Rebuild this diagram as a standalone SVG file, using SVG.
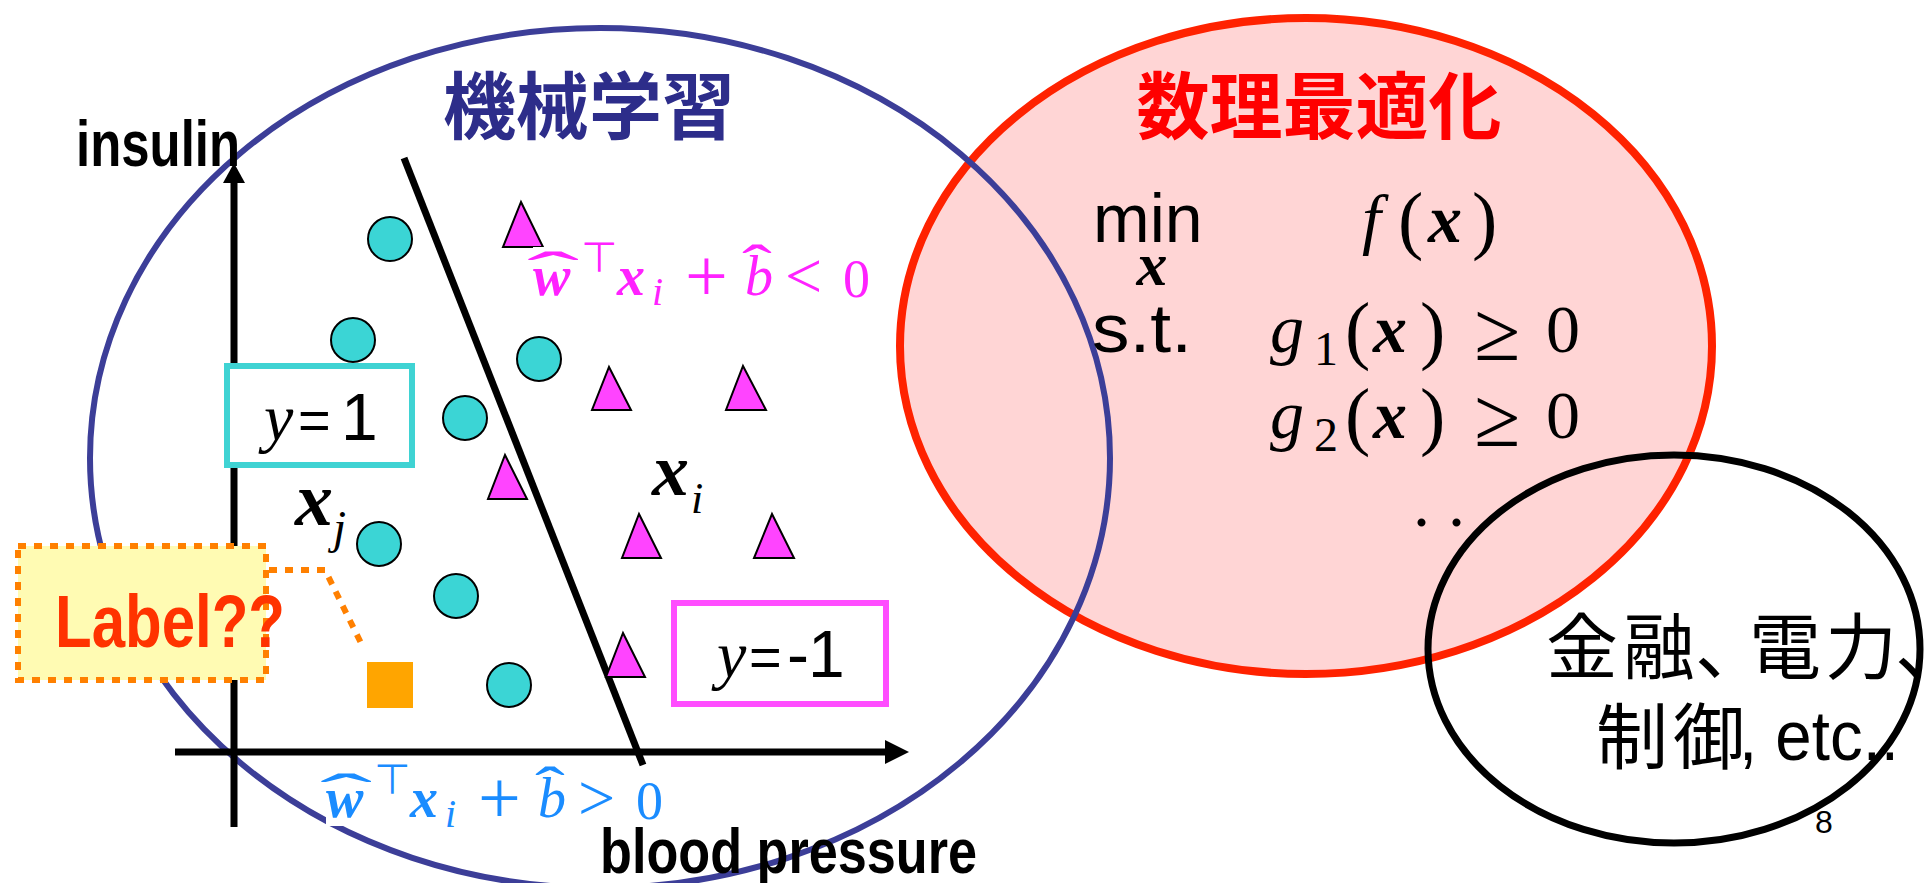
<svg xmlns="http://www.w3.org/2000/svg" width="1924" height="883" viewBox="0 0 1924 883">
<defs>
<style>
.sans{font-family:"Liberation Sans","Noto Sans CJK JP",sans-serif}
.cjk{font-family:"Noto Sans CJK JP","Noto Sans CJK SC",sans-serif}
.serif{font-family:"Liberation Serif",serif}
.it{font-family:"Liberation Serif",serif;font-style:italic}
.bi{font-family:"Liberation Serif",serif;font-style:italic;font-weight:bold}
.circ{fill:#3bd5d5;stroke:#000;stroke-width:2}
.tri{fill:#ff44ff;stroke:#000;stroke-width:2;stroke-linejoin:miter}
.axis{stroke:#000;stroke-width:7;fill:none}
.dot{stroke:#ff8000;stroke-width:6;stroke-dasharray:8 8}
</style>
</defs>
<rect width="1924" height="883" fill="#fff"/>

<g id="ellipse-optimization">
<ellipse cx="1306" cy="346" rx="406" ry="328" fill="#ffd5d5" stroke="#ff2200" stroke-width="8"/>
</g>
<g id="ellipse-ml">
<ellipse cx="600" cy="458" rx="510" ry="430" fill="none" stroke="#3c3e98" stroke-width="6"/>
</g>
<g id="ellipse-applications">
<ellipse cx="1674" cy="649" rx="246" ry="194" fill="none" stroke="#000" stroke-width="7"/>
</g>

<g id="title-ml">
<text class="cjk" x="589" y="133" font-size="73" font-weight="bold" fill="#2d2d8a" text-anchor="middle">機械学習</text>
</g>
<g id="title-opt">
<text class="cjk" x="1319" y="133" font-size="73" font-weight="bold" fill="#ff0000" text-anchor="middle">数理最適化</text>
</g>

<g id="problem">
<text class="sans" x="1093" y="242" font-size="68">min</text>
<text class="bi" x="1152" y="285" font-size="62" text-anchor="middle">x</text>
<text class="it" x="1362" y="242" font-size="68">f</text>
<text class="serif" x="1398" y="245" font-size="76">(</text>
<text class="bi" x="1428" y="242" font-size="68">x</text>
<text class="serif" x="1472" y="245" font-size="76">)</text>

<text class="sans" x="1092" y="352" font-size="68" textLength="100" lengthAdjust="spacingAndGlyphs">s.t.</text>
<text class="it" x="1270" y="352" font-size="68">g</text>
<text class="serif" x="1314" y="365" font-size="48">1</text>
<text class="serif" x="1345" y="355" font-size="76">(</text>
<text class="bi" x="1373" y="352" font-size="68">x</text>
<text class="serif" x="1420" y="355" font-size="76">)</text>
<text class="serif" x="1474" y="360" font-size="84">≥</text>
<text class="serif" x="1546" y="352" font-size="68">0</text>

<text class="it" x="1270" y="438" font-size="68">g</text>
<text class="serif" x="1314" y="451" font-size="48">2</text>
<text class="serif" x="1345" y="441" font-size="76">(</text>
<text class="bi" x="1373" y="438" font-size="68">x</text>
<text class="serif" x="1420" y="441" font-size="76">)</text>
<text class="serif" x="1474" y="446" font-size="84">≥</text>
<text class="serif" x="1546" y="438" font-size="68">0</text>

<text class="serif" x="1413" y="526" font-size="68">.</text>
<text class="serif" x="1448" y="526" font-size="68">.</text>
</g>

<g id="applications">
<text class="cjk" x="1546 1623 1695 1749 1825 1895" y="673" font-size="72">金融、電力、</text>
<text class="cjk" x="1596 1673" y="763" font-size="72">制御</text>
<text class="sans" x="1739" y="760" font-size="70" textLength="160" lengthAdjust="spacingAndGlyphs">, etc..</text>
<text class="sans" x="1815" y="833" font-size="32">8</text>
</g>

<g id="cond-negative" fill="#ff22ff">
<rect x="533" y="240" width="345" height="70" fill="#fff"/>
<text class="serif" font-size="56" transform="translate(553 291) scale(2.8 1)" text-anchor="middle">ˆ</text>
<text class="bi" x="533" y="295" font-size="56">w</text>
<text x="581" y="272" font-size="42" font-family="DejaVu Sans, sans-serif">⊤</text>
<text class="bi" x="617" y="295" font-size="56">x</text>
<text class="it" x="652" y="305" font-size="40">i</text>
<text class="serif" x="685" y="301" font-size="76">+</text>
<text class="serif" font-size="56" transform="translate(757 284) scale(1.6 1)" text-anchor="middle">ˆ</text>
<text class="it" x="745" y="295" font-size="56">b</text>
<text class="serif" x="785" y="298" font-size="66">&lt;</text>
<text class="serif" x="843" y="297" font-size="54">0</text>
</g>

<g id="cond-positive" fill="#1a8cff" transform="translate(-207 522)">
<rect x="533" y="238" width="345" height="66" fill="#fff"/>
<text class="serif" font-size="56" transform="translate(553 291) scale(2.8 1)" text-anchor="middle">ˆ</text>
<text class="bi" x="533" y="295" font-size="56">w</text>
<text x="581" y="272" font-size="42" font-family="DejaVu Sans, sans-serif">⊤</text>
<text class="bi" x="617" y="295" font-size="56">x</text>
<text class="it" x="652" y="305" font-size="40">i</text>
<text class="serif" x="685" y="301" font-size="76">+</text>
<text class="serif" font-size="56" transform="translate(757 284) scale(1.6 1)" text-anchor="middle">ˆ</text>
<text class="it" x="745" y="295" font-size="56">b</text>
<text class="serif" x="785" y="298" font-size="66">&gt;</text>
<text class="serif" x="843" y="297" font-size="54">0</text>
</g>

<g id="axes">
<line class="axis" x1="234" y1="827" x2="234" y2="178"/>
<polygon points="234,163 245,183 223,183" fill="#000"/>
<line class="axis" x1="175" y1="752" x2="890" y2="752"/>
<polygon points="909,752 885,740 885,764" fill="#000"/>
<text class="sans" x="76" y="166" font-size="64" font-weight="bold" textLength="164" lengthAdjust="spacingAndGlyphs">insulin</text>
<text class="sans" x="600" y="873" font-size="63" font-weight="bold" textLength="377" lengthAdjust="spacingAndGlyphs">blood pressure</text>
</g>

<g id="boundary">
<line x1="404" y1="158" x2="643" y2="765" stroke="#000" stroke-width="7"/>
</g>

<g id="positives">
<circle class="circ" cx="390" cy="239" r="22"/>
<circle class="circ" cx="353" cy="340" r="22"/>
<circle class="circ" cx="539" cy="359" r="22"/>
<circle class="circ" cx="465" cy="418" r="22"/>
<circle class="circ" cx="379" cy="544" r="22"/>
<circle class="circ" cx="456" cy="596" r="22"/>
<circle class="circ" cx="509" cy="685" r="22"/>
</g>

<g id="negatives">
<polygon class="tri" points="521,202 543,247 503,247"/>
<polygon class="tri" points="609,367 631,410 592,410"/>
<polygon class="tri" points="743,366 766,410 726,410"/>
<polygon class="tri" points="505,455 527,499 488,499"/>
<polygon class="tri" points="639,514 661,558 622,558"/>
<polygon class="tri" points="772,514 794,558 754,558"/>
<polygon class="tri" points="623,633 645,677 606,677"/>
</g>
<rect x="533" y="247" width="20" height="3" fill="#fff"/>

<g id="box-pos">
<rect x="227" y="366" width="185" height="99" fill="#fff" stroke="#3fd3d3" stroke-width="6"/>
<text class="it" x="264" y="440" font-size="66">y</text>
<text class="sans" x="298" y="439" font-size="56">=</text>
<text class="sans" x="341" y="440" font-size="66">1</text>
</g>

<g id="box-neg">
<rect x="674" y="603" width="212" height="101" fill="#fff" stroke="#ff4dff" stroke-width="6"/>
<text class="it" x="717" y="677" font-size="66">y</text>
<text class="sans" x="749" y="676" font-size="56">=</text>
<text class="sans" x="787" y="677" font-size="66">-</text>
<text class="sans" x="808" y="677" font-size="66">1</text>
</g>

<g id="label-xj">
<text class="bi" x="295" y="525" font-size="76">x</text>
<text class="it" x="333" y="543" font-size="47">j</text>
</g>
<g id="label-xi">
<text class="bi" x="652" y="495" font-size="74">x</text>
<text class="it" x="691" y="513" font-size="44">i</text>
</g>

<g id="query">
<rect x="367" y="662" width="46" height="46" fill="#ffa500"/>
<polyline class="dot" points="269,570 325,570 361,643" fill="none"/>
<rect class="dot" x="18" y="546" width="248" height="134" fill="#fffbb3"/>
<text class="sans" x="55" y="647" font-size="75" font-weight="bold" fill="#ff3300" textLength="230" lengthAdjust="spacingAndGlyphs">Label??</text>
</g>
</svg>
